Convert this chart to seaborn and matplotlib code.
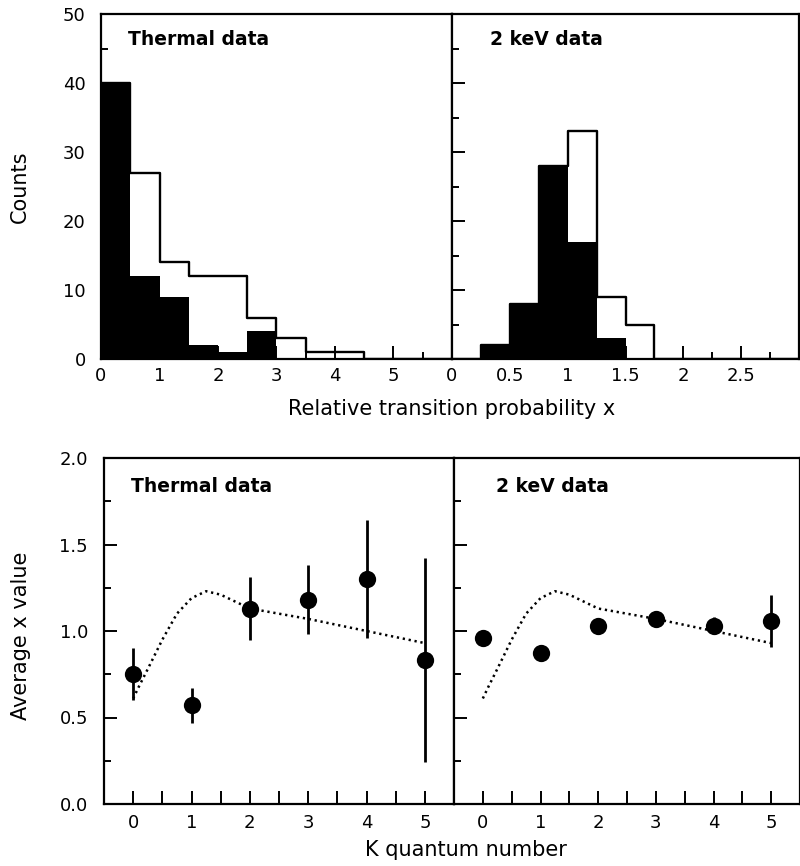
import numpy as np
import pandas as pd
import matplotlib
matplotlib.use("Agg")
import matplotlib.pyplot as plt
import seaborn as sns

sns.set_style("ticks")
plt.rcParams['font.family'] = ['DejaVu Sans']
plt.rcParams.update({
    "text.color": "black",
    "axes.labelcolor": "black",
    "axes.edgecolor": "black",
    "xtick.color": "black",
    "ytick.color": "black",
})

# Histogram counts (thermal: bins of 0.5 from 0 to 6, 2 keV: bins of 0.25 from 0 to 3)
thermal_all = [40, 27, 14, 12, 12, 6, 3, 1, 1, 0, 0, 0]
thermal_sel = [40, 12, 9, 2, 1, 4, 0, 0, 0, 0, 0, 0]
kev_all = [0, 2, 8, 28, 33, 9, 5, 0, 0, 0, 0, 0]
kev_sel = [0, 2, 8, 28, 17, 3, 0, 0, 0, 0, 0, 0]

# Average x value vs K
k_values = [0, 1, 2, 3, 4, 5]
thermal_mean = [0.75, 0.57, 1.13, 1.18, 1.30, 0.83]
thermal_err = [0.15, 0.10, 0.18, 0.20, 0.34, 0.59]
kev_mean = [0.96, 0.87, 1.03, 1.07, 1.03, 1.06]
kev_err = [0.03, 0.03, 0.03, 0.04, 0.05, 0.15]

# Model curve (dotted)
curve_k = [0.0, 0.1, 0.25, 0.5, 0.75, 1.0, 1.25, 1.5, 1.75, 2.0, 3.0, 4.0, 5.0]
curve_y = [0.61, 0.68, 0.78, 0.95, 1.10, 1.19, 1.23, 1.21, 1.17, 1.13, 1.07, 1.00, 0.93]

W, H = 800, 866
fig = plt.figure(figsize=(W / 100, H / 100), dpi=100)

def px_axes(x0, x1, y0, y1):
    return fig.add_axes([x0 / W, 1 - y1 / H, (x1 - x0) / W, (y1 - y0) / H])

ax_tl = px_axes(101, 452, 14, 359)
ax_tr = px_axes(452, 799, 14, 359)
ax_bl = px_axes(104, 454, 458, 804)
ax_br = px_axes(454, 800, 458, 804)

def style(ax, xlen_minor):
    for sp in ax.spines.values():
        sp.set_linewidth(1.6)
        sp.set_color("black")
        sp.set_visible(True)
    ax.tick_params(which="both", direction="in", top=False, right=False,
                   width=1.4, labelsize=13, color="black", labelcolor="black")
    ax.tick_params(axis="y", which="major", length=9.5, pad=11)
    ax.tick_params(axis="y", which="minor", length=5)
    ax.tick_params(axis="x", which="major", length=9.5, pad=6)
    ax.tick_params(axis="x", which="minor", length=xlen_minor)
    ax.set_xlabel("")
    ax.set_ylabel("")

# ---- top histograms ----
def draw_hist(ax, edges, all_counts, sel_counts):
    centers = (edges[:-1] + edges[1:]) / 2
    df = pd.DataFrame({"x": centers, "all": all_counts, "sel": sel_counts})
    bins = list(edges)
    sns.histplot(data=df, x="x", weights="sel", bins=bins, element="step",
                 fill=True, color="black", alpha=1, linewidth=0, ax=ax)
    sns.histplot(data=df, x="x", weights="all", bins=bins, element="step",
                 fill=False, color="black", linewidth=1.7, ax=ax)

draw_hist(ax_tl, np.arange(0, 6.01, 0.5), thermal_all, thermal_sel)
draw_hist(ax_tr, np.arange(0, 3.01, 0.25), kev_all, kev_sel)

for ax in (ax_tl, ax_tr):
    style(ax, 5)
    ax.set_ylim(0, 50)
    ax.set_yticks([0, 10, 20, 30, 40, 50])
    ax.set_yticks(np.arange(5, 50, 10), minor=True)

ax_tl.set_xlim(0, 6)
ax_tl.set_xticks([0, 1, 2, 3, 4, 5], ["0", "1", "2", "3", "4", "5"])
ax_tl.set_xticks(np.arange(0.5, 6, 1.0), minor=True)
ax_tr.set_xlim(0, 3)
ax_tr.set_xticks([0, 0.5, 1, 1.5, 2, 2.5], ["0", "0.5", "1", "1.5", "2", "2.5"])
ax_tr.set_xticks(np.arange(0.25, 3, 0.5), minor=True)
ax_tr.tick_params(axis="y", labelleft=False)

ax_tl.text(0.078, 0.955, "Thermal data", transform=ax_tl.transAxes,
           fontsize=13.5, fontweight="bold", va="top")
ax_tr.text(0.11, 0.955, "2 keV data", transform=ax_tr.transAxes,
           fontsize=13.5, fontweight="bold", va="top")

# ---- bottom: average x vs K ----
def draw_avg(ax, mean, err):
    sns.lineplot(x=curve_k, y=curve_y, color="black", linewidth=1.8,
                 linestyle=(0, (0.9, 1.5)), sort=False, ax=ax)
    ax.errorbar(k_values, mean, yerr=err, fmt="none", ecolor="black",
                elinewidth=2, capsize=0, zorder=3)
    sns.scatterplot(x=k_values, y=mean, color="black", s=155, linewidth=0,
                    ax=ax, zorder=4)

draw_avg(ax_bl, thermal_mean, thermal_err)
draw_avg(ax_br, kev_mean, kev_err)

for ax in (ax_bl, ax_br):
    style(ax, 9.5)
    ax.tick_params(axis="x", which="major", pad=7.5)
    ax.tick_params(axis="y", which="major", pad=11.5)
    ax.set_xlim(-0.5, 5.5)
    ax.set_ylim(0, 2.0)
    ax.set_xticks(k_values, [str(v) for v in k_values])
    ax.set_xticks(np.arange(0.5, 5, 1.0), minor=True)
    ax.set_yticks([0, 0.5, 1.0, 1.5, 2.0], ["0.0", "0.5", "1.0", "1.5", "2.0"])
    ax.set_yticks(np.arange(0.25, 2.0, 0.5), minor=True)
ax_br.tick_params(axis="y", labelleft=False)

ax_bl.text(0.078, 0.945, "Thermal data", transform=ax_bl.transAxes,
           fontsize=13.5, fontweight="bold", va="top")
ax_br.text(0.12, 0.945, "2 keV data", transform=ax_br.transAxes,
           fontsize=13.5, fontweight="bold", va="top")

# axis labels
fig.text(20 / W, 1 - 187 / H, "Counts", rotation=90, fontsize=15,
         ha="center", va="center")
fig.text(452 / W, 1 - 409 / H, "Relative transition probability x",
         fontsize=15, ha="center", va="center")
fig.text(21 / W, 1 - 636 / H, "Average x value", rotation=90, fontsize=15,
         ha="center", va="center")
fig.text(466 / W, 1 - 850 / H, "K quantum number", fontsize=15,
         ha="center", va="center")

fig.savefig("out.png", dpi=100)
